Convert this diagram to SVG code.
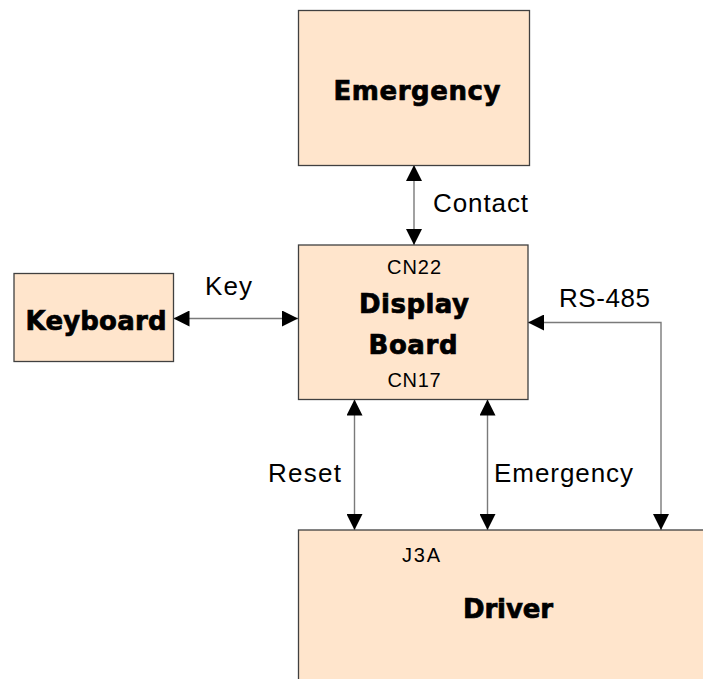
<svg xmlns="http://www.w3.org/2000/svg" width="703" height="679" viewBox="0 0 703 679">
  <style>
    .box { fill: #FFE5CC; stroke: #404040; stroke-width: 1.3; }
    .wire { fill: none; stroke: #7a7a7a; stroke-width: 1.4; }
    .title { font-family: "DejaVu Sans", "Liberation Sans", sans-serif; font-weight: bold; font-size: 26px; fill: #000; stroke: #000; stroke-width: 0.7; text-anchor: middle; }
    .lbl { font-family: "Liberation Sans", Arial, sans-serif; font-size: 26px; fill: #000; }
    .pin { font-family: "Liberation Sans", Arial, sans-serif; font-size: 20px; fill: #000; }
  </style>
  <defs>
    <marker id="arrow" viewBox="0 0 16 16" refX="16" refY="8" markerWidth="16" markerHeight="16" markerUnits="userSpaceOnUse" orient="auto-start-reverse">
      <path d="M0,0 L16,8 L0,16 Z" fill="#000"/>
    </marker>
  </defs>

  <g id="connectors">
    <line class="wire" x1="414" y1="165" x2="414" y2="245" marker-start="url(#arrow)" marker-end="url(#arrow)"/>
    <line class="wire" x1="173.5" y1="318.5" x2="298" y2="318.5" marker-start="url(#arrow)" marker-end="url(#arrow)"/>
    <polyline class="wire" points="528,322.5 661,322.5 661,530" marker-start="url(#arrow)" marker-end="url(#arrow)"/>
    <line class="wire" x1="354.5" y1="399.5" x2="354.5" y2="530" marker-start="url(#arrow)" marker-end="url(#arrow)"/>
    <line class="wire" x1="487.5" y1="399.5" x2="487.5" y2="530" marker-start="url(#arrow)" marker-end="url(#arrow)"/>
    <text class="lbl" x="433" y="212" textLength="95">Contact</text>
    <text class="lbl" x="205" y="295" textLength="47">Key</text>
    <text class="lbl" x="559" y="307" textLength="91">RS-485</text>
    <text class="lbl" x="268" y="482" textLength="73">Reset</text>
    <text class="lbl" x="494" y="482" textLength="139">Emergency</text>
  </g>

  <g id="emergency">
    <rect class="box" x="298.5" y="10.5" width="231" height="155"/>
    <text class="title" x="417" y="100" textLength="167">Emergency</text>
  </g>

  <g id="keyboard">
    <rect class="box" x="14" y="273.5" width="159.5" height="88"/>
    <text class="title" x="96" y="330" textLength="141">Keyboard</text>
  </g>

  <g id="display-board">
    <rect class="box" x="298.5" y="245" width="229.5" height="154.5"/>
    <text class="pin" x="414" y="274" text-anchor="middle" textLength="54">CN22</text>
    <text class="title" x="414" y="313" textLength="110">Display</text>
    <text class="title" x="413" y="354" textLength="89">Board</text>
    <text class="pin" x="414" y="387" text-anchor="middle" textLength="53">CN17</text>
  </g>

  <g id="driver">
    <rect class="box" x="298.5" y="530" width="460" height="200"/>
    <text class="pin" x="402" y="562" textLength="38">J3A</text>
    <text class="title" x="508" y="618" textLength="90">Driver</text>
  </g>
</svg>
